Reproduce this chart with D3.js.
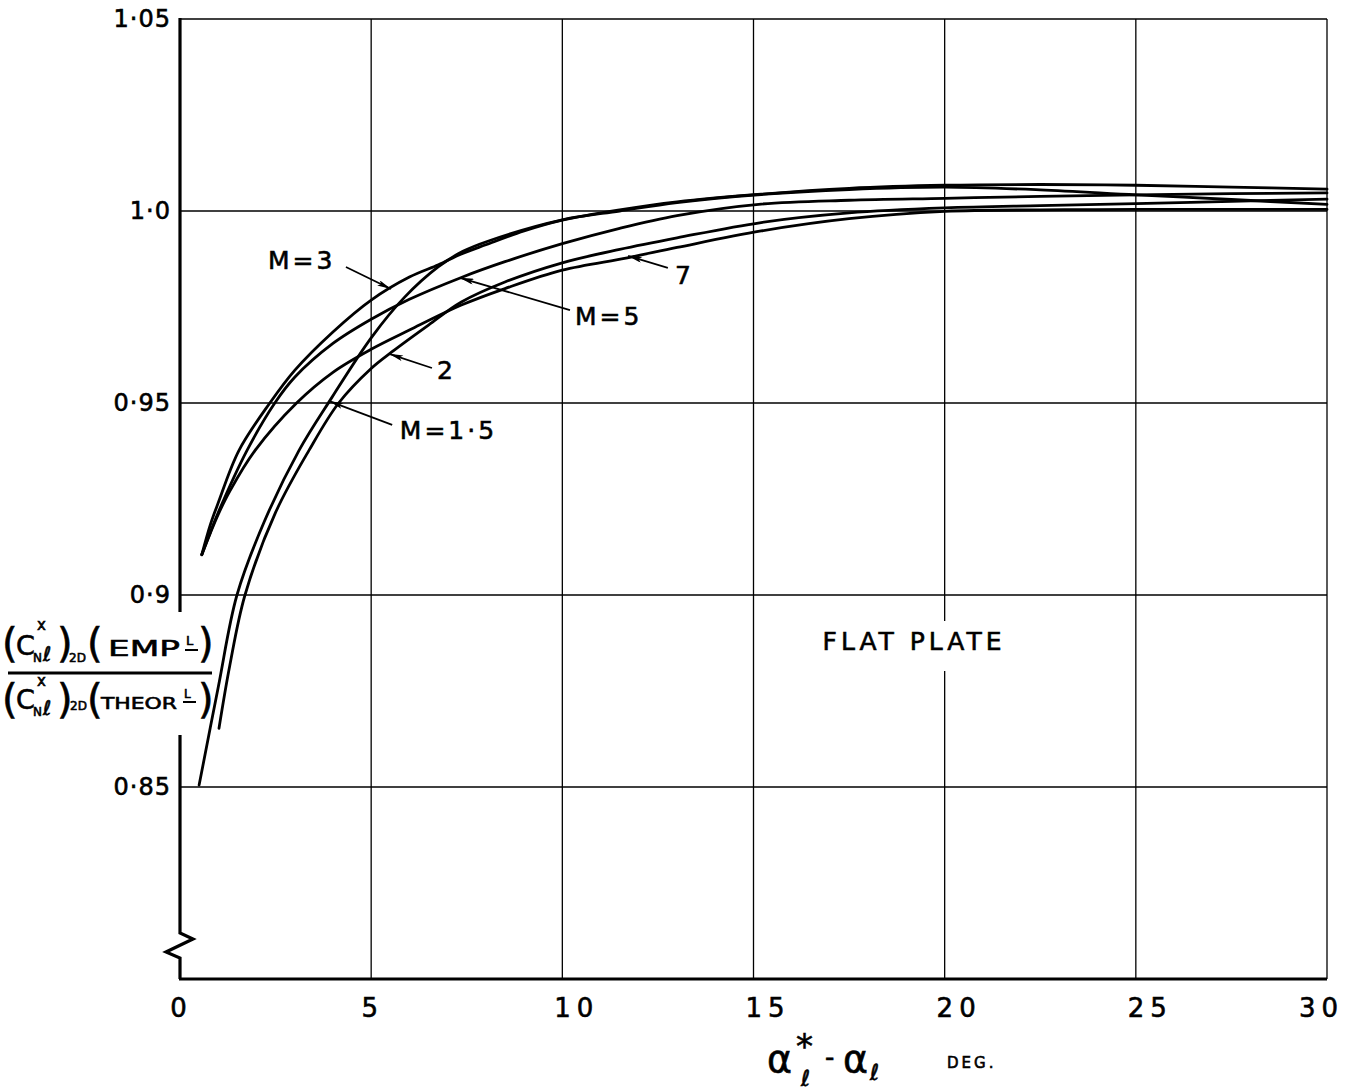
<!DOCTYPE html>
<html>
<head>
<meta charset="utf-8">
<script src="https://cdn.jsdelivr.net/npm/d3@7"></script>
<style>
  body { margin: 0; background: #fff; }
  svg { display: block; font-family: 'DejaVu Sans', sans-serif; }
  text { fill: #000; stroke: #000; stroke-width: 0.6px; }
</style>
</head>
<body>
<svg id="svg_chart" width="1354" height="1092"></svg>
<script>

// axis ticks
const xTicks = [0, 5, 10, 15, 20, 25, 30];
const yTicks = [0.85, 0.9, 0.95, 1.0, 1.05];
const yTickLabels = ['0·85', '0·9', '0·95', '1·0', '1·05'];

// curves, [alpha deg, ratio]
const machNumbers = ['1.5', '2', '3', '5', '7'];
const m15 = [[0.5,0.8505],[1.0,0.876],[1.49,0.9],[2.2,0.919],[3.11,0.9376],[3.97,0.9514],[5.01,0.9671],[5.87,0.9775],[6.76,0.9855],[7.4,0.9895],[8.07,0.9922],[10,0.9977],[11.5,1.0],[13,1.0022],[15.2,1.0043],[17.5,1.0056],[20,1.0062],[22.5,1.0055],[25,1.0042],[27.5,1.003],[30,1.0017]];
const m2 = [[1.02,0.8653],[1.3,0.8815],[1.7,0.9],[2.5,0.9215],[3.37,0.9376],[4.15,0.95],[5.0,0.959],[5.54,0.9633],[6.5,0.9703],[7.36,0.9763],[8.5,0.9815],[10,0.9865],[11.5,0.990],[13,0.993],[15.2,0.997],[17.5,0.9995],[20,1.0008],[22.5,1.0014],[25,1.0019],[27.5,1.0025],[30,1.0031]];
const m3 = [[0.57,0.9105],[0.8,0.9185],[1.0,0.924],[1.54,0.9376],[2.35,0.95],[3,0.9585],[4,0.9685],[5,0.9768],[6,0.9828],[6.76,0.986],[7.36,0.9888],[8,0.9912],[9,0.9948],[10,0.9976],[11.5,1.0003],[13,1.0024],[15.2,1.0044],[17.5,1.0059],[20,1.0067],[22.5,1.0069],[25,1.0067],[27.5,1.0062],[30,1.0057]];
const m5 = [[0.57,0.9105],[0.8,0.9165],[1.0,0.9215],[1.75,0.9376],[2.48,0.95],[3,0.9567],[4,0.9655],[5,0.9718],[6,0.977],[7.36,0.9827],[8.5,0.9868],[10,0.9915],[11.5,0.9955],[13,0.9988],[15.2,1.0018],[17.5,1.0028],[20,1.0033],[22.5,1.0038],[25,1.0042],[27.5,1.0045],[30,1.0047]];
const m7 = [[0.57,0.9105],[0.8,0.9163],[1.0,0.921],[1.3,0.927],[1.96,0.9376],[3.05,0.95],[4,0.958],[5,0.964],[6,0.969],[7.36,0.9755],[8.5,0.9798],[10,0.9846],[11.7,0.9878],[13,0.9905],[15.2,0.9948],[17.5,0.998],[20,0.9999],[22.5,1.0003],[25,1.0004],[27.5,1.0004],[30,1.0004]];
const seriesPoints = [m15, m2, m3, m5, m7];

// curve labels, in data units
const noteLabels = ['M=3', 'M=5', '7', '2', 'M=1·5'];
const noteAt = [[2.3,0.9867],[10.33,0.9721],[12.95,0.9828],[6.72,0.958],[5.75,0.9424]];
const arrowFrom = [[4.34,0.9854],[10.2,0.9742],[12.76,0.9852],[6.59,0.9591],[5.55,0.9443]];
const arrowTip = [[5.52,0.9797],[7.32,0.9826],[11.72,0.9883],[5.47,0.9628],[3.9,0.9505]];


function chart() {

  const svg = d3.select('#svg_chart');

  const x = d3.scaleLinear().domain([0, 30]).range([180, 1327]);
  const y = d3.scaleLinear().domain([0.8, 1.05]).range([979, 19]);

  // arrow head
  svg.append('defs').append('marker')
    .attr('id', 'head')
    .attr('viewBox', '0 0 14 6')
    .attr('refX', 14)
    .attr('refY', 3)
    .attr('markerWidth', 15)
    .attr('markerHeight', 6)
    .attr('markerUnits', 'userSpaceOnUse')
    .attr('orient', 'auto')
    .append('path')
    .attr('d', 'M0,0 L14,3 L0,6 L3,3 z')
    .attr('fill', '#000');

  // grid
  const grid = svg.append('g').attr('id', 'grid');

  grid.selectAll('.vgrid').data(xTicks.filter(d => d > 0))
    .join('line')
    .attr('class', 'vgrid')
    .attr('x1', d => x(d))
    .attr('x2', d => x(d))
    .attr('y1', y(0.8))
    .attr('y2', y(1.05))
    .attr('stroke', '#000')
    .attr('stroke-width', 1.3);

  grid.selectAll('.hgrid').data(yTicks)
    .join('line')
    .attr('class', 'hgrid')
    .attr('x1', x(0))
    .attr('x2', x(30))
    .attr('y1', d => y(d))
    .attr('y2', d => y(d))
    .attr('stroke', '#000')
    .attr('stroke-width', 1.3);

  // bottom axis line
  svg.append('line')
    .attr('x1', x(0) - 1)
    .attr('x2', x(30))
    .attr('y1', y(0.8))
    .attr('y2', y(0.8))
    .attr('stroke', '#000')
    .attr('stroke-width', 3.2);

  // left axis, broken for the label and with a zigzag near the bottom
  const ax = x(0);
  const leftAxis = [
    [[ax, y(1.05) - 1], [ax, 612]],
    [[ax, 735], [ax, 933], [ax + 13, 939], [ax - 14, 952], [ax, 958], [ax, y(0.8)]]
  ];
  svg.selectAll('.leftAxis').data(leftAxis)
    .join('path')
    .attr('class', 'leftAxis')
    .attr('d', d3.line())
    .attr('fill', 'none')
    .attr('stroke', '#000')
    .attr('stroke-width', 3.2)
    .attr('stroke-linejoin', 'miter');

  // tick labels
  svg.append('g')
    .attr('transform', `translate(${x(0)},0)`)
    .call(d3.axisLeft(y).tickValues(yTicks).tickFormat((d, i) => yTickLabels[i]).tickSize(0).tickPadding(9))
    .call(g => g.select('.domain').remove())
    .attr('font-family', 'DejaVu Sans, sans-serif')
    .attr('font-size', 24)
    .selectAll('text')
    .attr('letter-spacing', 1);

  svg.append('g')
    .attr('transform', `translate(0,${y(0.8)})`)
    .call(d3.axisBottom(x).tickValues(xTicks).tickSize(0).tickPadding(20))
    .call(g => g.select('.domain').remove())
    .attr('font-family', 'DejaVu Sans, sans-serif')
    .attr('font-size', 26)
    .selectAll('text')
    .attr('letter-spacing', 6)
    .attr('dx', d => d === 30 ? -6 : (d >= 10 ? 14 : 1));

  // curves
  const line = d3.line()
    .x(d => x(d[0]))
    .y(d => y(d[1]))
    .curve(d3.curveCatmullRom.alpha(0.5));

  svg.append('g').attr('id', 'curves')
    .selectAll('path').data(seriesPoints)
    .join('path')
    .attr('class', (d, i) => `mach mach-${i}`)
    .attr('d', line)
    .attr('fill', 'none')
    .attr('stroke', '#000')
    .attr('stroke-width', 2.8)
    .attr('stroke-linecap', 'round');

  // curve labels and arrows
  const notes = svg.append('g').attr('id', 'notes');

  notes.selectAll('line').data(arrowFrom)
    .join('line')
    .attr('x1', d => x(d[0]))
    .attr('y1', d => y(d[1]))
    .attr('x2', (d, i) => x(arrowTip[i][0]))
    .attr('y2', (d, i) => y(arrowTip[i][1]))
    .attr('stroke', '#000')
    .attr('stroke-width', 1.7)
    .attr('marker-end', 'url(#head)');

  notes.selectAll('text').data(noteLabels)
    .join('text')
    .text(d => d)
    .attr('x', (d, i) => x(noteAt[i][0]))
    .attr('y', (d, i) => y(noteAt[i][1]))
    .attr('dominant-baseline', 'middle')
    .attr('font-size', 25)
    .attr('letter-spacing', 3);

  // flat plate label, with the grid line cut behind it
  svg.append('rect')
    .attr('x', x(19.2) - 112)
    .attr('y', y(0.8875) - 22)
    .attr('width', 224)
    .attr('height', 50)
    .attr('fill', '#fff');

  svg.append('text')
    .text('FLAT PLATE')
    .attr('x', x(19.2))
    .attr('y', y(0.8875))
    .attr('text-anchor', 'middle')
    .attr('dominant-baseline', 'middle')
    .attr('font-size', 25)
    .attr('letter-spacing', 4);

  // y axis title as a fraction
  const yTitle = svg.append('g').attr('id', 'ytitle');
  const pieces = [
    ['(', 2, 657, 40, 0], ['C', 16, 655, 27, 0], ['x', 37, 630, 15, 0], ['N', 33, 662, 12, 0], ['ℓ', 43, 661, 20, 0], [')', 57, 657, 40, 0],
    ['2D', 69, 662, 12, 0], ['(', 87, 657, 40, 0], ['EMP', 108, 656, 22, 72], ['L', 186, 645, 13, 0], [')', 198, 657, 40, 0],
    ['(', 2, 713, 40, 0], ['C', 16, 709, 27, 0], ['x', 37, 686, 15, 0], ['N', 33, 716, 12, 0], ['ℓ', 43, 715, 20, 0], [')', 57, 713, 40, 0],
    ['2D', 70, 710, 12, 0], ['(', 87, 713, 40, 0], ['THEOR', 101, 709, 16, 76], ['L', 184, 698, 12, 0], [')', 198, 713, 40, 0]
  ];
  yTitle.selectAll('text').data(pieces)
    .join('text')
    .text(d => d[0])
    .attr('x', d => d[1])
    .attr('y', d => d[2])
    .attr('font-size', d => d[3])
    .attr('textLength', d => d[4] || null)
    .attr('lengthAdjust', d => d[4] ? 'spacingAndGlyphs' : null);

  // underlines on the raised L
  yTitle.selectAll('.uline').data([[185, 198, 650], [183, 196, 702]])
    .join('line')
    .attr('class', 'uline')
    .attr('x1', d => d[0])
    .attr('x2', d => d[1])
    .attr('y1', d => d[2])
    .attr('y2', d => d[2])
    .attr('stroke', '#000')
    .attr('stroke-width', 2);

  yTitle.append('line')
    .attr('x1', 8)
    .attr('x2', 212)
    .attr('y1', 673)
    .attr('y2', 673)
    .attr('stroke', '#000')
    .attr('stroke-width', 3);

  // x axis title
  const xTitle = [
    ['α', 767, 1072, 38], ['*', 796, 1058, 34], ['ℓ', 801, 1086, 22],
    ['-', 825, 1066, 26], ['α', 843, 1072, 38], ['ℓ', 870, 1080, 22],
    ['DEG.', 947, 1068, 15]
  ];
  svg.append('g').attr('id', 'xtitle')
    .selectAll('text').data(xTitle)
    .join('text')
    .text(d => d[0])
    .attr('x', d => d[1])
    .attr('y', d => d[2])
    .attr('font-size', d => d[3])
    .attr('letter-spacing', d => d[0] === 'DEG.' ? 3 : 0);
}

chart();
</script>
</body>
</html>
